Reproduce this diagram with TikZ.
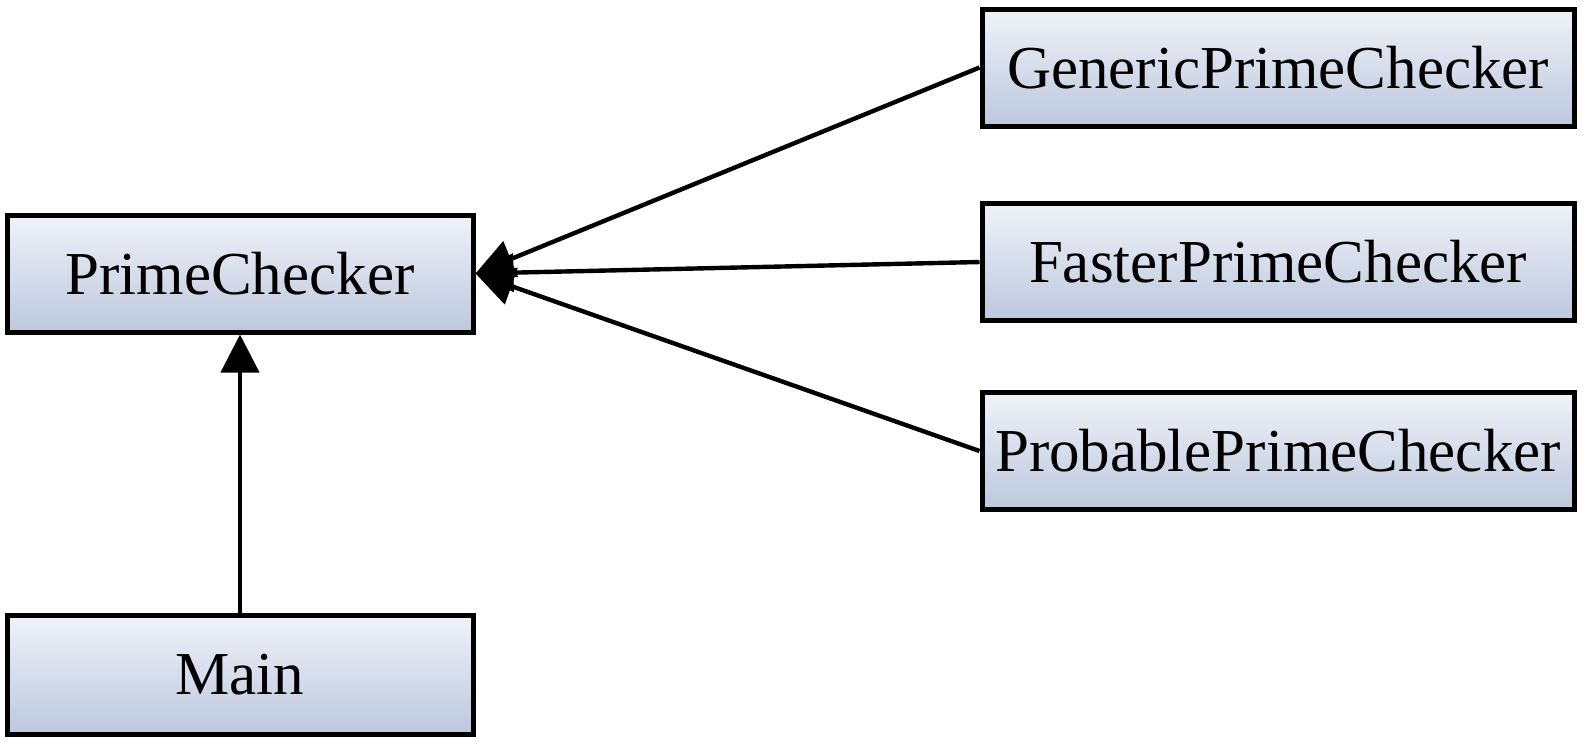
\documentclass[tikz,border=0pt]{standalone}
\usepackage{fontspec}
\setmainfont{Liberation Serif}
\usetikzlibrary{arrows.meta}
\definecolor{boxtop}{HTML}{F0F2F8}
\definecolor{boxbot}{HTML}{BCC8DE}
\tikzset{
  cls/.style={draw=black, line width=2.5pt, top color=boxtop, bottom color=boxbot,
    minimum height=58.5pt, inner sep=0pt, font=\fontsize{30.5}{36}\selectfont},
  leftcls/.style={cls, minimum width=233pt},
  rightcls/.style={cls, minimum width=296pt},
  inh/.style={line width=2.2pt, -{Triangle[length=19pt,width=19pt]}}
}
\begin{document}
\begin{tikzpicture}[x=0.5pt,y=-0.5pt]
\useasboundingbox (0,0) rectangle (1594,741);
\node[leftcls] (pc) at (240,273.5) {PrimeChecker};
\node[leftcls, minimum height=59.5pt] (main) at (240,674.5) {Main};
\node[rightcls] (gen) at (1278,67.5) {GenericPrimeChecker};
\node[rightcls] (fast) at (1278,262) {FasterPrimeChecker};
\node[rightcls] (prob) at (1278,451) {ProbablePrimeChecker};
\draw[inh] (gen.west) -- (pc.east);
\draw[inh] (fast.west) -- (pc.east);
\draw[inh] (prob.west) -- (pc.east);
\draw[inh] (main.north) -- (pc.south);
\end{tikzpicture}
\end{document}
